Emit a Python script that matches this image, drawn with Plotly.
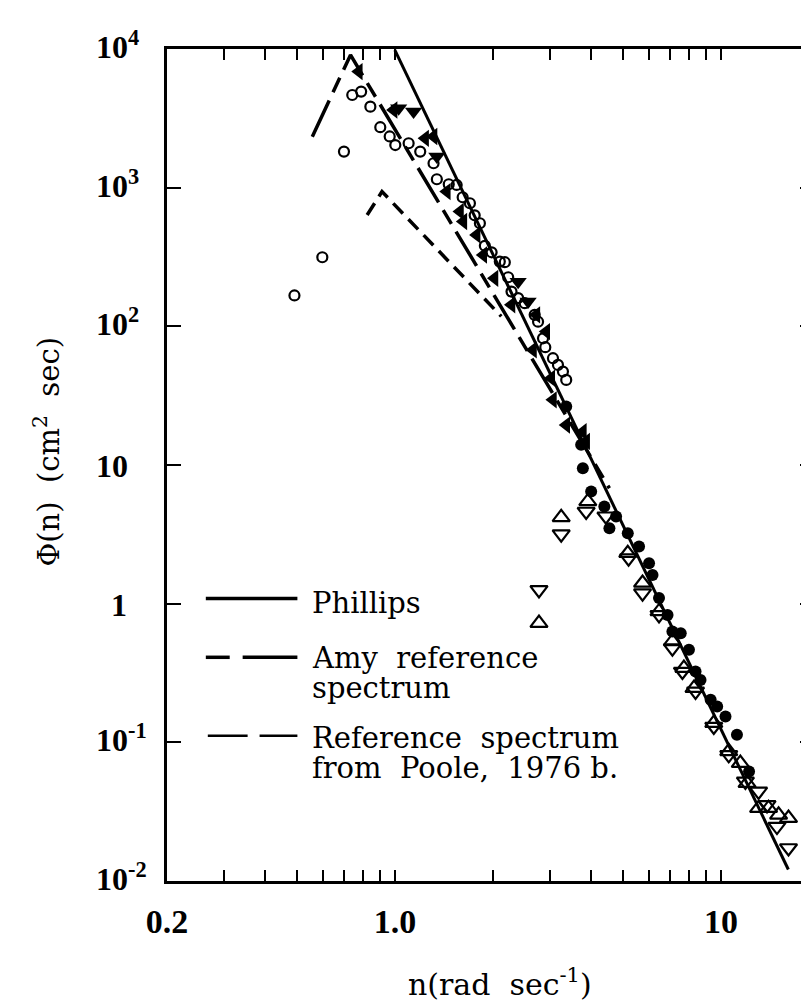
import numpy as np
import plotly.graph_objects as go

# ---------------- data ----------------
# reference curves: n (rad/s), Phi (cm^2 s)
phillips_n = [1.0, 16.1]
phillips_phi = [9800, 0.0121]
amy_n = [0.558, 0.731, 4.55]
amy_phi = [2330, 9060, 6.8]
poole_n = [0.822, 0.913, 2.12]
poole_phi = [635, 937, 118]

# open circles
oc_n = [0.492, 0.599, 0.698, 0.740, 0.788, 0.841, 0.902, 0.964, 1.003, 1.102,
        1.196, 1.314, 1.345, 1.463, 1.547, 1.614, 1.699, 1.757, 1.823, 1.888,
        1.980, 2.098, 2.174, 2.226, 2.279, 2.388, 2.502, 2.684, 2.749, 2.847,
        2.893, 3.054, 3.164, 3.277, 3.354]
oc_phi = [167, 315, 1820, 4660, 4930, 3840, 2730, 2340, 2030, 2090,
          1820, 1500, 1150, 1058, 1046, 853, 772, 632, 554, 381,
          342, 293, 290, 226, 178, 160, 147, 121, 108, 82,
          70.7, 58.9, 52.7, 47.2, 41.1]

# filled down-pointing triangles
fd_n = [1.027, 1.141, 1.345, 2.388, 2.562]
fd_phi = [3735, 3537, 1676, 210, 151]

# other filled triangles
ft_n = [0.775, 0.991, 1.238, 1.314, 1.443, 1.584, 1.622, 1.781, 1.867, 2.021,
        2.279, 2.716, 2.913, 2.653, 3.018, 3.054, 3.354, 3.772, 3.861]
ft_phi = [6870, 3630, 2270, 2340, 937, 673, 570, 456, 327, 222,
          143, 121, 91.7, 67.6, 42.3, 29.5, 19.4, 17.4, 14.8]

# filled circles
fc_n = [3.354, 3.727, 3.772, 4.00, 4.39, 4.55, 4.77, 5.18, 5.61, 6.02,
        6.17, 6.46, 6.86, 7.10, 7.53, 7.98, 8.36, 8.66, 9.30, 9.74,
        10.33, 11.2, 12.2]
fc_phi = [26.4, 14.0, 9.48, 6.44, 5.02, 3.50, 4.25, 3.22, 2.58, 1.96,
          1.61, 1.10, 0.830, 0.631, 0.613, 0.465, 0.324, 0.282, 0.2025, 0.1815,
          0.1538, 0.1133, 0.0617]

# open up-pointing triangles
ou_n = [3.237, 2.767, 3.906, 5.18, 5.75, 6.46, 7.10, 7.70, 8.27, 9.51,
        10.57, 11.47, 12.03, 13.05, 14.0, 15.03, 16.12]
ou_phi = [4.19, 0.724, 5.46, 2.31, 1.41, 0.879, 0.534, 0.343, 0.246, 0.1375,
          0.0860, 0.0708, 0.0508, 0.0335, 0.0335, 0.0300, 0.0284]

# open down-pointing triangles
od_n = [3.237, 2.767, 3.861, 4.44, 5.21, 5.75, 6.46, 7.10, 7.62, 8.36,
        9.51, 10.57, 11.89, 13.05, 13.85, 14.86, 16.12]
od_phi = [3.17, 1.257, 4.62, 4.27, 2.13, 1.19, 0.830, 0.478, 0.324, 0.233,
          0.130, 0.0813, 0.0523, 0.0443, 0.0354, 0.0247, 0.0173]

# axis ticks
x_tickvals = [0.2, 1.0, 10]
x_ticktext = ["0.2", "1.0", "10"]
x_minorvals = [0.3, 0.4, 0.5, 0.6, 0.7, 0.8, 0.9, 2, 3, 4, 5, 6, 7, 8, 9]
y_tickvals = [1e-2, 1e-1, 1, 10, 1e2, 1e3, 1e4]
y_ticktext = ["10<sup>-2</sup>", "10<sup>-1</sup>", "1", "10",
              "10<sup>2</sup>", "10<sup>3</sup>", "10<sup>4</sup>"]

legend_labels = [["Phillips"],
                 ["Amy  reference", "spectrum"],
                 ["Reference  spectrum", "from  Poole,  1976 b."]]

# ---------------- figure ----------------
W, H = 809, 1001
L, R, T, B = 159, 0, 41, 128
pw, ph = W - L - R, H - T - B

def px_x(p):
    return (p - L) / pw

def px_y(p):
    return (H - B - p) / ph

BLACK = "black"
fig = go.Figure()

fig.add_trace(go.Scatter(x=phillips_n, y=phillips_phi, mode="lines",
                         line=dict(color=BLACK, width=3), showlegend=False))
fig.add_trace(go.Scatter(x=amy_n, y=amy_phi, mode="lines",
                         line=dict(color=BLACK, width=3.5, dash="40px,9px,16px,9px"),
                         showlegend=False))
fig.add_trace(go.Scatter(x=poole_n, y=poole_phi, mode="lines",
                         line=dict(color=BLACK, width=3.5, dash="14px,8px"),
                         showlegend=False))

fig.add_trace(go.Scatter(x=oc_n, y=oc_phi, mode="markers",
                         marker=dict(symbol="circle-open", size=10, color=BLACK,
                                     line=dict(width=2.2, color=BLACK)),
                         showlegend=False))
fig.add_trace(go.Scatter(x=fd_n, y=fd_phi, mode="markers",
                         marker=dict(symbol="triangle-down", size=15, color=BLACK),
                         showlegend=False))
fig.add_trace(go.Scatter(x=ft_n, y=ft_phi, mode="markers",
                         marker=dict(symbol="triangle-left", size=15, color=BLACK),
                         showlegend=False))
fig.add_trace(go.Scatter(x=fc_n, y=fc_phi, mode="markers",
                         marker=dict(symbol="circle", size=12, color=BLACK),
                         showlegend=False))
fig.add_trace(go.Scatter(x=ou_n, y=ou_phi, mode="markers",
                         marker=dict(symbol="triangle-up-open", size=15, color=BLACK,
                                     line=dict(width=2.2, color=BLACK)),
                         showlegend=False))
fig.add_trace(go.Scatter(x=od_n, y=od_phi, mode="markers",
                         marker=dict(symbol="triangle-down-open", size=15, color=BLACK,
                                     line=dict(width=2.2, color=BLACK)),
                         showlegend=False))

TICKFONT = dict(family="Liberation Serif", size=32, color=BLACK, weight="bold")
TEXTFONT = dict(family="DejaVu Serif", size=29, color=BLACK)

fig.update_xaxes(type="log", range=[np.log10(0.2), np.log10(19.3)],
                 tickvals=x_tickvals, ticktext=x_ticktext, ticks="inside",
                 ticklen=11, tickwidth=1.5, tickcolor=BLACK,
                 minor=dict(tickvals=x_minorvals, ticks="inside", ticklen=11,
                            tickwidth=1.5, tickcolor=BLACK, showgrid=False),
                 showline=True, linewidth=2.5, linecolor=BLACK, mirror="ticks",
                 showgrid=False, zeroline=False,
                 tickfont=dict(family="Liberation Serif", size=34, color=BLACK,
                               weight="bold"),
                 ticklabelstandoff=8)
fig.update_yaxes(type="log", range=[-2, 4], tickvals=y_tickvals,
                 ticks="inside", ticklen=14, tickwidth=1.5, tickcolor=BLACK,
                 showline=True, linewidth=2.5, linecolor=BLACK, mirror="ticks",
                 showgrid=False, zeroline=False, showticklabels=False)

annotations = []
# y tick labels
for v, t in zip(y_tickvals, y_ticktext):
    if t == "1":
        annotations.append(dict(x=0, xref="paper", y=np.log10(v), yref="y",
                                text=t, showarrow=False, xanchor="right",
                                xshift=121 - L, yanchor="middle", yshift=-1,
                                font=TICKFONT))
    else:
        annotations.append(dict(x=0, xref="paper", y=np.log10(v), yref="y",
                                text=t, showarrow=False, xanchor="left",
                                xshift=86 - L, yanchor="middle",
                                yshift=4 if "sup" in t else -1, font=TICKFONT))

# axis titles
annotations.append(dict(x=px_x(494), y=px_y(975), xref="paper", yref="paper",
                        text="n(rad  sec<sup>-1</sup>)", showarrow=False,
                        xanchor="center", yanchor="middle",
                        font=dict(family="DejaVu Serif", size=30, color=BLACK)))
annotations.append(dict(x=px_x(38), y=px_y(444), xref="paper", yref="paper",
                        text="\u03a6(n)  (cm<sup>2</sup>  sec)", showarrow=False,
                        textangle=-90, xanchor="center", yanchor="middle",
                        font=TEXTFONT))

# legend
legend_text_y = [[595], [650, 680], [730, 760]]
shapes = []
# Phillips key
shapes.append(dict(type="line", xref="paper", yref="paper",
                   x0=px_x(198), x1=px_x(290), y0=px_y(590.5), y1=px_y(590.5),
                   line=dict(color=BLACK, width=3.5)))
# Amy key: short + long dash
shapes.append(dict(type="line", xref="paper", yref="paper",
                   x0=px_x(198), x1=px_x(222), y0=px_y(649.3), y1=px_y(649.3),
                   line=dict(color=BLACK, width=3.5)))
shapes.append(dict(type="line", xref="paper", yref="paper",
                   x0=px_x(235), x1=px_x(290), y0=px_y(649.3), y1=px_y(649.3),
                   line=dict(color=BLACK, width=3.5)))
# Poole key
shapes.append(dict(type="line", xref="paper", yref="paper",
                   x0=px_x(200), x1=px_x(240), y0=px_y(727.7), y1=px_y(727.7),
                   line=dict(color=BLACK, width=2.5)))
shapes.append(dict(type="line", xref="paper", yref="paper",
                   x0=px_x(252), x1=px_x(290), y0=px_y(727.7), y1=px_y(727.7),
                   line=dict(color=BLACK, width=2.5)))

for lines, ys in zip(legend_labels, legend_text_y):
    for txt, yy in zip(lines, ys):
        annotations.append(dict(x=px_x(303), y=px_y(yy), xref="paper", yref="paper",
                                text=txt, showarrow=False, xanchor="left",
                                yanchor="middle", font=TEXTFONT))

fig.update_layout(width=W, height=H, margin=dict(l=L, r=R, t=T, b=B, pad=0),
                  paper_bgcolor="white", plot_bgcolor="white",
                  annotations=annotations, shapes=shapes, showlegend=False)

fig.write_html("out.html")
